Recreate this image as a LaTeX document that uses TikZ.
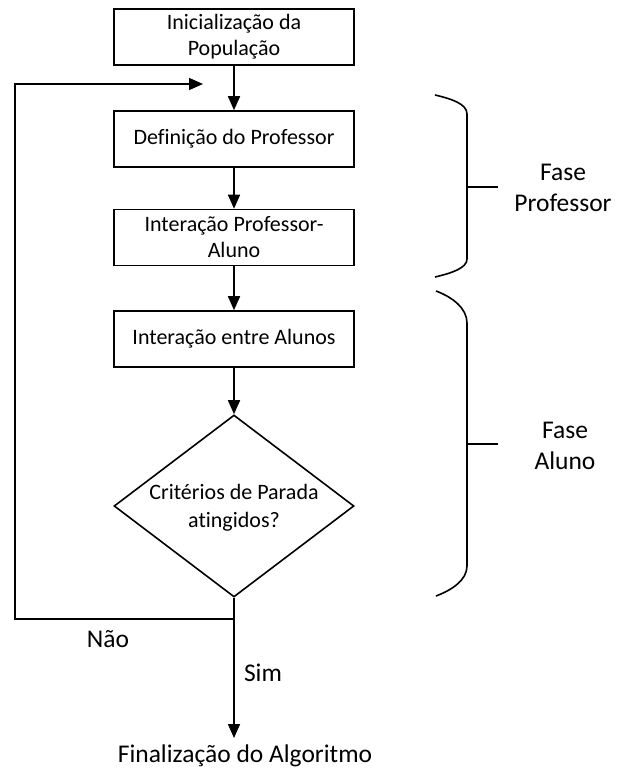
\documentclass[tikz,border=0pt]{standalone}
\usepackage{fontspec}
\setmainfont[Ligatures=NoCommon]{Carlito}
\usetikzlibrary{arrows.meta,shapes.geometric}
% text that does not enlarge the shape around it
\newcommand{\flattext}[1]{\smash{\raisebox{-7pt}{\makebox[0pt]{\begin{tabular}{@{}c@{}}#1\end{tabular}}}}}
\begin{document}
\begin{tikzpicture}[x=1pt,y=1pt,
  line width=1.6pt,
  stepbox/.style={draw,minimum width=240pt,minimum height=56pt,inner sep=0pt,
    align=center,font=\fontsize{22}{26}\selectfont},
  decision/.style={draw,diamond,minimum width=240pt,minimum height=182pt,inner sep=0pt,
    font=\fontsize{22}{26}\selectfont},
  flow/.style={-{Triangle[width=12pt,length=14pt]}},
  biglabel/.style={align=center,font=\fontsize{25.5}{31}\selectfont}]
\useasboundingbox (0,0) rectangle (618,-774);

% process steps
\node[stepbox] (init) at (234,-37) {Inicialização da\\População};
\node[stepbox] (prof) at (234,-139) {Definição do Professor};
\node[stepbox] (inter) at (234,-237.5) {Interação Professor-\\Aluno};
\node[stepbox] (alunos) at (234,-339) {Interação entre Alunos};
\node[decision] (crit) at (234,-506) {\flattext{Critérios de Parada\\[2pt]atingidos?}};

\coordinate (junc) at (234,-619);
\coordinate (loopL) at (15,-619);
\coordinate (loopT) at (15,-84);
\coordinate (loopEnd) at (203,-84);
\coordinate (fimArrow) at (234,-738);

\draw[flow] (init) -- (prof);
\draw[flow] (prof) -- (inter);
\draw[flow] (inter) -- (alunos);
\draw[flow] (alunos) -- (crit);
\draw (crit.south) -- (junc);
\draw[flow] (junc) -- (loopL) -- (loopT) -- (loopEnd);
\draw[flow] (junc) -- (fimArrow);

\node[biglabel] (nao) at (108,-639) {Não};
\node[biglabel] (sim) at (263,-673) {Sim};
\node[biglabel] (fim) at (245,-756) {Finalização do Algoritmo};

% phase braces
\draw (435,-95) .. controls (452,-99) and (467,-104) .. (467,-114)
  -- (467,-259) .. controls (467,-268) and (452,-273) .. (435,-277);
\draw (467,-187) -- (498,-187);
\node[biglabel] (fprof) at (563,-188) {Fase\\Professor};

\draw (436,-291) .. controls (452,-297) and (467,-308) .. (467,-323)
  -- (467,-566) .. controls (467,-580) and (452,-590) .. (436,-596);
\draw (467,-444) -- (498,-444);
\node[biglabel] (faluno) at (565,-446) {Fase\\Aluno};
\end{tikzpicture}
\end{document}
